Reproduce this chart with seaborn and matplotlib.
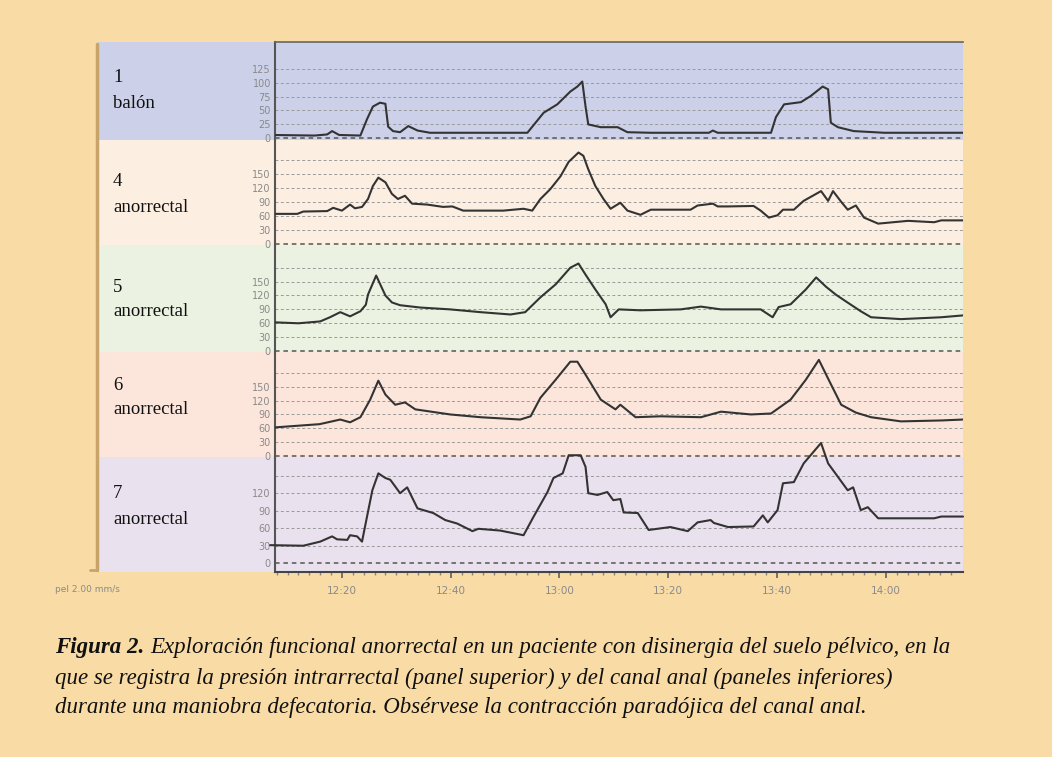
import matplotlib.pyplot as plt
import seaborn as sns
from matplotlib.lines import Line2D
from matplotlib.patches import Rectangle

sns.set_theme(style="white")
plt.rcParams["font.family"] = ["DejaVu Sans"]

# time in minutes after 12:00, pressure in mmHg
balon_t = [7.3, 15.0, 17.3, 18.2, 19.5, 23.4, 24.6, 25.7, 27.0, 28.0, 28.5, 29.4, 30.7, 32.2,
           33.9, 36.2, 43.6, 54.1, 57.1, 59.6, 62.0, 63.3, 64.2, 64.8, 65.3, 67.6, 70.7, 72.5,
           76.8, 87.5, 88.2, 89.1, 98.9, 99.8, 101.3, 104.4, 106.2, 108.4, 109.4, 109.9, 111.2,
           114.1, 119.7, 134.2]
balon_v = [6, 5, 7, 13, 6, 5, 34, 57, 64, 62, 21, 13, 11, 22,
           14, 10, 10, 10, 46, 61, 84, 93, 102, 57, 25, 20, 20, 11,
           10, 10, 14, 10, 10, 38, 61, 65, 76, 93, 88, 28, 20,
           13, 10, 10]

ch4_t = [6.8, 11.8, 12.9, 17.3, 18.4, 20.0, 21.5, 22.4, 23.7, 24.8, 25.7, 26.7, 28.0, 29.2,
         30.3, 31.6, 32.9, 35.7, 38.6, 40.3, 42.3, 49.7, 53.4, 55.0, 56.5, 58.3, 60.2, 61.7,
         63.5, 64.4, 65.3, 66.6, 68.1, 69.4, 71.2, 72.5, 74.9, 76.8, 79.9, 84.1, 85.4, 88.2,
         89.1, 91.0, 95.7, 97.0, 98.5, 100.1, 101.1, 103.1, 104.9, 108.1, 109.4, 110.3, 111.8,
         113.0, 114.5, 116.0, 118.6, 124.1, 128.9, 130.2, 134.2]
ch4_v = [65, 65, 70, 71, 78, 72, 85, 77, 80, 97, 125, 143, 133, 108,
         97, 104, 87, 85, 80, 81, 72, 72, 76, 72, 97, 118, 146, 177,
         197, 190, 161, 125, 97, 76, 89, 72, 63, 74, 74, 74, 83, 87,
         81, 81, 82, 72, 57, 62, 74, 74, 93, 114, 93, 114, 91,
         74, 83, 57, 44, 50, 47, 51, 51]

ch5_t = [7.7, 12.0, 16.0, 17.8, 19.7, 21.5, 23.4, 24.4, 24.8, 26.3, 28.0, 29.2, 30.7, 34.4,
         39.9, 45.5, 51.0, 53.7, 56.5, 59.3, 62.0, 63.5, 64.8, 66.6, 68.5, 69.4, 70.9, 74.9,
         82.3, 86.0, 89.7, 97.0, 99.2, 100.3, 102.5, 105.3, 107.2, 109.0, 110.8, 112.7, 115.4,
         117.3, 122.8, 130.2, 134.2]
ch5_v = [62, 60, 64, 73, 84, 75, 86, 100, 122, 163, 120, 105, 99, 94,
         90, 84, 79, 84, 116, 144, 180, 189, 165, 133, 101, 73, 90, 88,
         90, 96, 90, 90, 73, 95, 101, 133, 159, 139, 122, 107, 86,
         73, 69, 73, 77]

ch6_t = [7.7, 15.9, 19.7, 21.5, 23.4, 25.2, 26.7, 28.0, 29.8, 31.6, 33.5, 39.9, 45.5, 52.8,
         54.7, 56.5, 59.3, 62.0, 63.3, 64.8, 67.6, 70.3, 71.2, 74.0, 78.6, 86.0, 89.7, 95.2,
         98.9, 102.5, 105.3, 107.7, 109.5, 111.8, 114.5, 117.3, 122.8, 130.2, 134.2]
ch6_v = [62, 69, 79, 73, 84, 122, 163, 133, 111, 116, 101, 90, 84, 79,
         86, 126, 165, 204, 204, 176, 122, 101, 111, 84, 86, 84, 96, 90,
         92, 122, 165, 208, 165, 111, 94, 84, 75, 77, 79]

ch7_t = [6.8, 12.9, 16.0, 18.2, 19.1, 21.0, 21.5, 22.8, 23.7, 24.6, 25.6, 26.7, 28.0, 28.9,
         30.7, 32.0, 33.9, 36.8, 39.0, 41.2, 44.0, 45.1, 49.1, 53.4, 55.2, 57.8, 58.9, 60.6,
         61.7, 63.9, 64.8, 65.3, 67.0, 68.8, 69.9, 71.2, 71.8, 74.4, 76.4, 80.4, 83.6, 85.4,
         87.8, 88.4, 91.0, 95.7, 97.4, 98.3, 100.1, 101.1, 103.1, 104.9, 108.1, 109.4, 113.0,
         114.0, 115.4, 116.7, 118.6, 125.9, 128.9, 130.2, 134.2]
ch7_v = [31, 30, 37, 46, 41, 40, 48, 46, 37, 79, 125, 154, 146, 143,
         120, 130, 94, 86, 74, 68, 55, 59, 56, 48, 79, 122, 146, 154,
         185, 185, 165, 120, 117, 122, 108, 110, 87, 86, 57, 62, 55, 70,
         74, 69, 62, 63, 82, 70, 91, 137, 139, 171, 206, 171, 125,
         130, 91, 96, 77, 77, 77, 80, 80]

channel_nums = ["1", "4", "5", "6", "7"]
channel_names = ["balón", "anorrectal", "anorrectal", "anorrectal", "anorrectal"]
time_ticks = [20, 40, 60, 80, 100, 120]
time_labels = ["12:20", "12:40", "13:00", "13:20", "13:40", "14:00"]

times = [balon_t, ch4_t, ch5_t, ch6_t, ch7_t]
values = [balon_v, ch4_v, ch5_v, ch6_v, ch7_v]
grid_vals = [[0, 25, 50, 75, 100, 125], [0, 30, 60, 90, 120, 150, 180],
             [0, 30, 60, 90, 120, 150, 180], [0, 30, 60, 90, 120, 150, 180],
             [0, 30, 60, 90, 120, 150]]
label_vals = [[0, 25, 50, 75, 100, 125], [0, 30, 60, 90, 120, 150],
              [0, 30, 60, 90, 120, 150], [0, 30, 60, 90, 120, 150],
              [0, 30, 60, 90, 120]]
ylims = [(-3, 173), (-2, 224), (-2, 229), (-2, 225), (-15, 182)]

bg_orange = "#f9dba6"
panel_colors = ["#ccd1e9", "#fdeee2", "#ebf2e1", "#fce6dc", "#eae1ef"]
edges = [42, 140, 245, 352, 457, 572]  # panel boundaries, pixel rows
label_rows = [(77, 104), (182, 207), (287, 311), (385, 410), (494, 519)]

W, H = 1052, 757


def fx(px):
    return px / W


def fy(py):
    return 1 - py / H


fig = plt.figure(figsize=(W / 100, H / 100), dpi=100)
fig.patch.set_facecolor(bg_orange)

x_left, x_right, band_left = 275, 963, 97

for i in range(5):
    top, bottom = edges[i], edges[i + 1]
    fig.add_artist(Rectangle((fx(band_left), fy(bottom)), fx(x_right - band_left),
                             (bottom - top) / H, transform=fig.transFigure,
                             facecolor=panel_colors[i], edgecolor="none", zorder=0))
    ax = fig.add_axes([fx(x_left), fy(bottom), fx(x_right - x_left), (bottom - top) / H])
    ax.set_facecolor("none")
    for g in grid_vals[i]:
        ax.axhline(g, color="#555555" if g == 0 else "#9a9a9a",
                   lw=1.1 if g == 0 else 0.7, ls=(0, (3, 2.5)), zorder=1)
    sns.lineplot(x=times[i], y=values[i], ax=ax, color="#333333", linewidth=1.5,
                 estimator=None, sort=False, zorder=3)
    if i == 4:
        ax.lines[-1].set_clip_on(False)
    ax.set_xlim(7.7, 134.2)
    ax.set_ylim(*ylims[i])
    ax.set_yticks(label_vals[i])
    ax.set_yticklabels([str(v) for v in label_vals[i]])
    ax.tick_params(axis="y", length=0, pad=3, labelsize=7, labelcolor="#8a8a8a")
    for s in ["top", "right", "bottom"]:
        ax.spines[s].set_visible(False)
    ax.spines["left"].set_color("#555555")
    ax.spines["left"].set_linewidth(1.5)
    if i == 0:
        ax.spines["top"].set_visible(True)
        ax.spines["top"].set_color("#666666")
        ax.spines["top"].set_linewidth(1.2)
    if i == 4:
        ax.spines["bottom"].set_visible(True)
        ax.spines["bottom"].set_color("#444444")
        ax.spines["bottom"].set_linewidth(1.5)
        ax.set_xticks(time_ticks)
        ax.set_xticklabels(time_labels)
        ax.set_xticks(range(8, 134, 2), minor=True)
        ax.tick_params(axis="x", which="major", length=4, color="#666666", pad=6,
                       labelsize=7.5, labelcolor="#8a8a8a", bottom=True)
        ax.tick_params(axis="x", which="minor", length=2, color="#888888", bottom=True)
    else:
        ax.set_xticks([])
    ax.set_xlabel("")
    ax.set_ylabel("")

    ny, nm = label_rows[i]
    fig.text(fx(113), fy(ny), channel_nums[i], family="Liberation Serif", fontsize=13.5,
             va="center", ha="left", color="#111111")
    fig.text(fx(113), fy(nm), channel_names[i], family="Liberation Serif", fontsize=13.5,
             va="center", ha="left", color="#111111")

# left bracket of the record
fig.add_artist(Line2D([fx(97), fx(97)], [fy(44), fy(570)], transform=fig.transFigure,
                      color="#c9a46a", lw=2.5))
fig.add_artist(Line2D([fx(90), fx(97)], [fy(570), fy(570)], transform=fig.transFigure,
                      color="#c9a46a", lw=2))

fig.text(fx(55), fy(590), "pel 2.00 mm/s", fontsize=6.5, color="#8a8a8a",
         va="center", ha="left")

caption = [
    "Exploración funcional anorrectal en un paciente con disinergia del suelo pélvico, en la",
    "que se registra la presión intrarrectal (panel superior) y del canal anal (paneles inferiores)",
    "durante una maniobra defecatoria. Obsérvese la contracción paradójica del canal anal.",
]
cap_rows = [648, 678, 708]
cap_size = 16.5
renderer = fig.canvas.get_renderer()
head = fig.text(fx(55), fy(cap_rows[0]), "Figura 2. ", family="Liberation Serif",
                style="italic", weight="bold", fontsize=cap_size, va="center", ha="left",
                color="#111111")
bb = head.get_window_extent(renderer=renderer)
fig.text(bb.x1 / fig.dpi / fig.get_figwidth(), fy(cap_rows[0]), caption[0],
         family="Liberation Serif", style="italic", fontsize=cap_size, va="center",
         ha="left", color="#111111")
for row, line in zip(cap_rows[1:], caption[1:]):
    fig.text(fx(55), fy(row), line, family="Liberation Serif", style="italic",
             fontsize=cap_size, va="center", ha="left", color="#111111")

fig.savefig("out.png", dpi=100, facecolor=fig.get_facecolor())
